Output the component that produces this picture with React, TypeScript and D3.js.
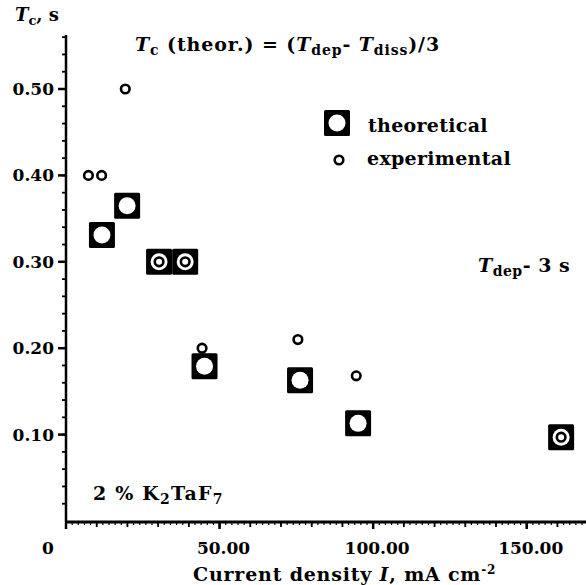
import React from "react";
import * as d3 from "d3";

const xMajorTicks = [0, 50, 100, 150];
const xTickLabels = ["0", "50.00", "100.00", "150.00"];
const yMajorTicks = [0.1, 0.2, 0.3, 0.4, 0.5];
const yTickLabels = ["0.10", "0.20", "0.30", "0.40", "0.50"];

const theorX = [11.7, 19.9, 30.3, 38.8, 45.1, 76.2, 95.1, 161.2];
const theorY = [0.331, 0.365, 0.3, 0.3, 0.179, 0.163, 0.113, 0.097];
const expX = [7.3, 11.6, 19.3, 30.3, 38.8, 44.3, 75.5, 94.5, 161.2];
const expY = [0.4, 0.4, 0.5, 0.3, 0.3, 0.2, 0.21, 0.168, 0.097];

const W = 586;
const H = 585;
const FONT = "'DejaVu Serif', serif";

export default function App() {
  const x = d3.scaleLinear().domain([0, 169.3]).range([66, 586]);
  const y = d3.scaleLinear().domain([0, 0.5625]).range([521, 35]);
  const tinyX = d3.range(0, 170, 2);
  const minorX = d3.range(0, 170, 10);
  const minorY = d3.range(0.02, 0.57, 0.02);
  const SQ = 26;

  return (
    <svg width={W} height={H} style={{ position: "absolute", left: 0, top: 0, background: "#fff" }} fontFamily={FONT}>
      <rect width={W} height={H} fill="#fff" />
      {/* axes */}
      <line x1={x(0)} y1={y(0.5625)} x2={x(0)} y2={y(0) + 1.5} stroke="#000" strokeWidth={2.5} />
      <line x1={x(0) - 1} y1={y(0) + 1} x2={W} y2={y(0) + 1} stroke="#000" strokeWidth={3} />
      {/* y ticks */}
      {minorY.map((v, i) => (
        <line key={"my" + i} x1={x(0) - 4} x2={x(0)} y1={y(v)} y2={y(v)} stroke="#000" strokeWidth={1.8} />
      ))}
      {yMajorTicks.map((v, i) => (
        <g key={"Y" + i}>
          <line x1={x(0) - 8} x2={x(0)} y1={y(v)} y2={y(v)} stroke="#000" strokeWidth={2.5} />
          <text x={x(0) - 12} y={y(v) + 6} textAnchor="end" fontSize={17} fontWeight="bold">
            {yTickLabels[i]}
          </text>
        </g>
      ))}
      {/* x ticks */}
      {tinyX.map((v, i) => (
        <line key={"tx" + i} x1={x(v)} x2={x(v)} y1={y(0) + 2} y2={y(0) + 4} stroke="#000" strokeWidth={1.2} />
      ))}
      {minorX.map((v, i) => (
        <line key={"mx" + i} x1={x(v)} x2={x(v)} y1={y(0) + 2} y2={y(0) + 6} stroke="#000" strokeWidth={1.8} />
      ))}
      {xMajorTicks.map((v, i) => (
        <g key={"X" + i}>
          <line x1={x(v)} x2={x(v)} y1={y(0) + 2} y2={y(0) + 8} stroke="#000" strokeWidth={2.5} />
          <text x={x(v) + (v === 0 ? -18 : 4)} y={554} textAnchor="middle" fontSize={17} fontWeight="bold">
            {xTickLabels[i]}
          </text>
        </g>
      ))}
      {/* theoretical markers */}
      {theorX.map((v, i) => (
        <g key={"t" + i}>
          <rect x={x(v) - SQ / 2} y={y(theorY[i]) - SQ / 2} width={SQ} height={SQ} rx={1.5} fill="#000" />
          <circle cx={x(v)} cy={y(theorY[i])} r={8.5} fill="#fff" />
        </g>
      ))}
      {/* experimental markers */}
      {expX.map((v, i) => (
        <circle key={"e" + i} cx={x(v)} cy={y(expY[i])} r={4.3} fill="#fff" stroke="#000" strokeWidth={2.6} />
      ))}
      {/* legend */}
      <rect x={337 - SQ / 2} y={123 - SQ / 2} width={SQ} height={SQ} rx={1.5} fill="#000" />
      <circle cx={337} cy={123} r={8.5} fill="#fff" />
      <text x={368} y={132} fontSize={19} fontWeight="bold" letterSpacing={0.3}>theoretical</text>
      <circle cx={339} cy={160} r={4.3} fill="#fff" stroke="#000" strokeWidth={2.6} />
      <text x={367} y={165} fontSize={19} fontWeight="bold" letterSpacing={0.3}>experimental</text>
      {/* y axis label */}
      <text x={15} y={21} fontSize={18} fontWeight="bold">
        <tspan fontStyle="italic">T</tspan>
        <tspan dy={4} fontSize={13}>c</tspan>
        <tspan dy={-4}>, s</tspan>
      </text>
      {/* title formula */}
      <text x={135} y={51} fontSize={19} fontWeight="bold" letterSpacing={0.9}>
        <tspan fontStyle="italic">T</tspan>
        <tspan dy={4} fontSize={14}>c</tspan>
        <tspan dy={-4}> (theor.) = (</tspan>
        <tspan fontStyle="italic">T</tspan>
        <tspan dy={4} fontSize={14}>dep</tspan>
        <tspan dy={-4}>- </tspan>
        <tspan fontStyle="italic">T</tspan>
        <tspan dy={4} fontSize={14}>diss</tspan>
        <tspan dy={-4}>)/3</tspan>
      </text>
      <text x={478} y={272} fontSize={19} fontWeight="bold" letterSpacing={0.5}>
        <tspan fontStyle="italic">T</tspan>
        <tspan dy={4} fontSize={14}>dep</tspan>
        <tspan dy={-4}>- 3 s</tspan>
      </text>
      <text x={93} y={500} fontSize={19} fontWeight="bold" letterSpacing={1.2}>
        <tspan>2 % K</tspan>
        <tspan dy={4} fontSize={14}>2</tspan>
        <tspan dy={-4}>TaF</tspan>
        <tspan dy={4} fontSize={14}>7</tspan>
      </text>
      <text x={193} y={581} fontSize={19} fontWeight="bold" letterSpacing={0.8}>
        <tspan>Current density </tspan>
        <tspan fontStyle="italic">I</tspan>
        <tspan>, mA cm</tspan>
        <tspan dy={-7} fontSize={12}>-2</tspan>
      </text>
    </svg>
  );
}
